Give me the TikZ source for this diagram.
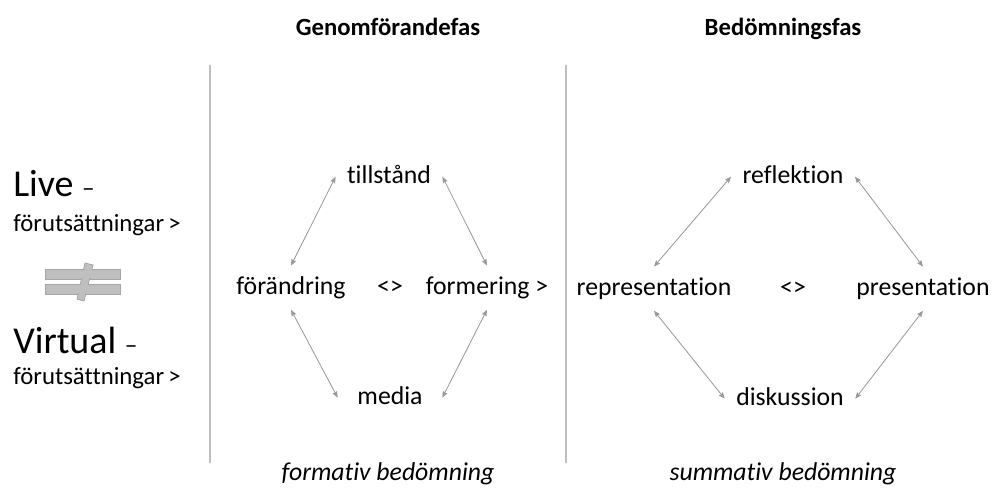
\documentclass[tikz,border=0pt]{standalone}
\usepackage{fontspec}
\usetikzlibrary{arrows.meta}
\setmainfont{Carlito}[RawFeature={-liga;-clig;-dlig;-calt}]
\tikzset{>={Stealth[length=4.5pt, width=3.6pt, inset=0.6pt]}}
\tikzset{
  term/.style={inner xsep=8pt, inner ysep=7pt, text height=13pt, text depth=4pt, anchor=base, font=\fontsize{18.3}{22}\selectfont},
  side/.style={inner sep=0pt, anchor=base west, font=\fontsize{17.6}{21}\selectfont},
  big/.style={inner sep=0pt, anchor=base west, font=\fontsize{27}{31}\selectfont},
  phase/.style={inner sep=0pt, anchor=base, font=\fontsize{17.6}{21}\selectfont\bfseries},
  bed/.style={inner sep=0pt, anchor=base, font=\fontsize{18.3}{22}\selectfont\itshape},
  link/.style={<->, draw=gray!80, line width=0.6pt},
  divider/.style={draw=gray!50, line width=0.8pt},
  neq/.style={fill=gray!50, draw=gray!70, line width=0.6pt},
}

\begin{document}
\begin{tikzpicture}[x=0.025cm, y=-0.025cm]
  \useasboundingbox (0,0) rectangle (994,496);

  % phase headings
  \node[phase] (genom) at (388,35) {Genomförandefas};
  \node[phase] (bedom) at (783,35) {Bedömningsfas};

  % dividers
  \draw[divider] (210,65) -- (210,463);
  \draw[divider] (566,65) -- (566,463);

  % live / virtual
  \node[big] (live) at (13,196) {Live {\fontsize{18}{21}\selectfont –}};
  \node[side] (livepre) at (13,231) {förutsättningar\,>};
  \node[big] (virtual) at (13,353) {Virtual {\fontsize{18}{21}\selectfont –}};
  \node[side] (virtpre) at (13,384) {förutsättningar\,>};

  % not equal sign
  \draw[neq] (45,269) rectangle (120,279);
  \draw[neq] (45,284) rectangle (120,294);
  \draw[neq] (85,263) -- (93,265) -- (84,301) -- (77,299) -- cycle;
  \fill[gray!50] (45.6,269.6) rectangle (119.4,278.4);
  \fill[gray!50] (45.6,284.6) rectangle (119.4,293.4);
  \fill[gray!50] (85.4,263.8) -- (92.2,265.5) -- (83.6,300.2) -- (77.8,298.5) -- cycle;

  % genomforande
  \node[term] (tillstand) at (389,183) {tillstånd};
  \node[term] (forandring) at (291,294) {förändring};
  \node[term] (neqA) at (390,294) {<>};
  \node[term] (formering) at (487,294) {formering >};
  \node[term, minimum width=74pt] (media) at (390,404) {media};

  \draw[link] (tillstand.west) -- (forandring.north);
  \draw[link] (tillstand.east) -- (formering.north);
  \draw[link] (forandring.south) -- (media.west);
  \draw[link] (formering.south) -- (media.east);

  % bedomning
  \node[term] (reflektion) at (793,183) {reflektion};
  \node[term] (representation) at (654,295) {representation};
  \node[term] (neqB) at (793,295) {<>};
  \node[term] (presentation) at (923,295) {presentation};
  \node[term] (diskussion) at (790,405) {diskussion};

  \draw[link] (reflektion.west) -- (representation.north);
  \draw[link] (reflektion.east) -- (presentation.north);
  \draw[link] (representation.south) -- (diskussion.west);
  \draw[link] (presentation.south) -- (diskussion.east);

  % assessment
  \node[bed] (formativ) at (388,480) {formativ bedömning};
  \node[bed] (summativ) at (783,480) {summativ bedömning};
\end{tikzpicture}
\end{document}
